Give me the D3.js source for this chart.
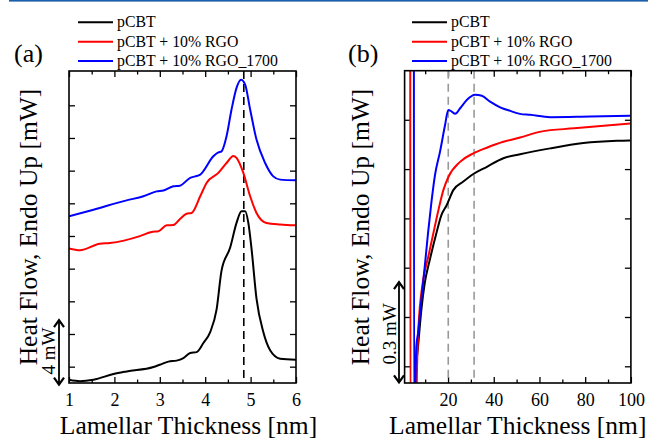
<!DOCTYPE html>
<html><head><meta charset="utf-8">
<script src="https://cdn.jsdelivr.net/npm/d3@7/dist/d3.min.js"></script>
<style>
html,body{margin:0;padding:0;background:#fff;}
svg{display:block;}
text{font-family:"Liberation Serif","Times New Roman",serif;fill:#000;}
</style></head>
<body>
<svg id="chart" width="648" height="438"></svg>
<script>
// ---------- DATA ----------
const seriesNames = ["pCBT", "pCBT + 10% RGO", "pCBT + 10% RGO_1700"];
const seriesColors = ["#000000", "#ff0000", "#0000ff"];

// Panel (a): lamellar thickness [nm] vs heat flow [mW]
const aBlack = [[1.0,-0.80],[1.24,-0.89],[1.54,-0.80],[1.98,-0.45],[2.27,-0.29],[2.86,-0.02],[3.0,0.12],[3.19,0.31],[3.37,0.37],[3.52,0.53],[3.67,0.84],[3.81,0.89],[3.96,1.45],[4.11,2.12],[4.25,3.49],[4.36,5.88],[4.55,7.29],[4.69,8.80],[4.80,9.51],[4.88,9.51],[4.95,8.80],[5.02,7.23],[5.13,4.16],[5.28,2.12],[5.43,1.0],[5.65,0.49],[6.0,0.43]];
const aRed = [[1.0,7.23],[1.24,7.12],[1.68,7.53],[1.90,7.57],[2.56,7.99],[2.82,8.25],[2.97,8.29],[3.15,8.65],[3.30,8.67],[3.44,9.03],[3.59,9.36],[3.70,9.41],[3.89,10.43],[4.03,11.25],[4.29,11.86],[4.47,12.47],[4.62,12.90],[4.69,12.78],[4.84,11.86],[4.99,10.43],[5.13,9.41],[5.35,8.80],[5.65,8.70],[6.0,8.65]];
const aBlue = [[1.0,9.2],[1.54,9.61],[2.27,10.18],[2.64,10.43],[2.93,10.73],[3.08,10.78],[3.30,11.04],[3.44,11.08],[3.67,11.56],[3.78,11.65],[3.89,11.76],[4.18,12.88],[4.29,13.12],[4.36,13.18],[4.47,14.1],[4.58,15.74],[4.69,17.07],[4.79,17.57],[4.88,17.27],[4.99,15.74],[5.13,13.9],[5.32,12.47],[5.50,11.65],[5.65,11.45],[6.0,11.41]];
const aDashX = 4.85;
const aXTicks = [1, 2, 3, 4, 5, 6];
const aXMinor = [1.5, 2.5, 3.5, 4.5, 5.5];
const aYTicks = [0, 2, 4, 6, 8, 10, 12, 14, 16];

// Panel (b)
const bBlack = [[6.13,0.009],[6.87,0.060],[8.32,0.171],[9.81,0.253],[12.0,0.323],[14.9,0.405],[17.1,0.460],[19.4,0.490],[22.3,0.536],[26.7,0.562],[31.1,0.585],[37.0,0.607],[44.2,0.633],[51.5,0.645],[64.7,0.663],[79.2,0.679],[93.9,0.686],[99.7,0.687]];
const bRed = [[3.45,1.2],[3.55,-0.3],[6.0,-0.3],[6.3,-0.06],[7.0,0.11],[9.06,0.26],[11.25,0.330],[13.44,0.400],[15.63,0.470],[17.95,0.536],[20.14,0.576],[25.26,0.622],[31.09,0.648],[36.95,0.665],[44.2,0.683],[51.5,0.696],[60.6,0.714],[75.2,0.724],[99.7,0.739]];
const bBlue = [[5.05,1.2],[5.15,-0.2],[6.13,0.060],[6.87,0.100],[8.32,0.202],[9.81,0.303],[11.25,0.405],[12.7,0.497],[14.3,0.582],[16.5,0.653],[18.7,0.734],[20.1,0.780],[21.6,0.775],[23.1,0.768],[25.3,0.785],[28.2,0.810],[31.8,0.826],[34.8,0.823],[38.4,0.805],[42.8,0.788],[47.2,0.777],[51.5,0.768],[55.9,0.765],[64.7,0.758],[82.2,0.760],[99.7,0.762]];
const bDashX = [20.1, 31.4];
const bXTicks = [20, 40, 60, 80, 100];
const bXMinor = [10, 30, 50, 70, 90];
const bYTicks = [0, 0.15, 0.30, 0.45, 0.60, 0.75];

const xLabel = "Lamellar Thickness [nm]";
const yLabel = "Heat Flow, Endo Up [mW]";

// ---------- DRAW ----------
const svg = d3.select("#chart");
svg.append("rect").attr("x", 9).attr("y", 0).attr("width", 639).attr("height", 1.6).attr("fill", "#1b5eaa");

function panel(cfg) {
  const {id, left, right, top, bottom, xDom, yDom, series, xTicks, xMinor, yTicks, tag, tagX, legLineX, yLabX, bar} = cfg;
  const x = d3.scaleLinear().domain(xDom).range([left, right]);
  const y = d3.scaleLinear().domain(yDom).range([bottom, top]);
  const g = svg.append("g");

  g.append("clipPath").attr("id", "clip" + id)
    .append("rect").attr("x", left).attr("y", top).attr("width", right - left).attr("height", bottom - top);

  // ticks (inward)
  const axB = d3.axisBottom(x).tickValues(xTicks).tickSize(-6).tickPadding(11).tickFormat(d3.format("d"));
  const gx = g.append("g").attr("transform", `translate(0,${bottom})`).call(axB);
  gx.select(".domain").remove();
  gx.selectAll("text").attr("font-size", 18).attr("dy", "0.72em").attr("y", 10.5);
  const gxm = g.append("g").attr("transform", `translate(0,${bottom})`).call(d3.axisBottom(x).tickValues(xMinor).tickSize(-3.5).tickFormat(""));
  gxm.select(".domain").remove();
  const gt = g.append("g").attr("transform", `translate(0,${top})`).call(d3.axisTop(x).tickValues(xTicks).tickSize(-6).tickFormat(""));
  gt.select(".domain").remove();
  const gtm = g.append("g").attr("transform", `translate(0,${top})`).call(d3.axisTop(x).tickValues(xMinor).tickSize(-3.5).tickFormat(""));
  gtm.select(".domain").remove();
  const gl = g.append("g").attr("transform", `translate(${left},0)`).call(d3.axisLeft(y).tickValues(yTicks).tickSize(-6).tickFormat(""));
  gl.select(".domain").remove();
  const gr = g.append("g").attr("transform", `translate(${right},0)`).call(d3.axisRight(y).tickValues(yTicks).tickSize(-6).tickFormat(""));
  gr.select(".domain").remove();
  g.selectAll(".tick line").attr("stroke", "#000").attr("stroke-width", 1.3);

  // dashed lines
  cfg.dash.forEach(dx => {
    g.append("line").attr("x1", x(dx)).attr("x2", x(dx)).attr("y1", top).attr("y2", bottom)
      .attr("stroke", cfg.dashColor).attr("stroke-width", 1.6).attr("stroke-dasharray", "8,5");
  });

  // curves
  const line = d3.line().x(d => x(d[0])).y(d => y(d[1])).curve(d3.curveMonotoneX);
  const cg = g.append("g").attr("clip-path", `url(#clip${id})`);
  series.forEach((s, i) => {
    cg.append("path").datum(s).attr("d", line).attr("fill", "none")
      .attr("stroke", seriesColors[i]).attr("stroke-width", 2).attr("stroke-linejoin", "round");
  });

  // frame
  g.append("rect").attr("x", left).attr("y", top).attr("width", right - left).attr("height", bottom - top)
    .attr("fill", "none").attr("stroke", "#000").attr("stroke-width", 1.6);

  // labels
  g.append("text").attr("x", (left + right) / 2 + cfg.xLabShift).attr("y", 433.5).attr("text-anchor", "middle")
    .attr("font-size", 25.5).text(xLabel);
  g.append("text").attr("transform", `translate(${yLabX},227) rotate(-90)`).attr("text-anchor", "middle")
    .attr("font-size", 25.5).text(yLabel);
  g.append("text").attr("x", tagX).attr("y", 62).attr("font-size", 26).text(tag);

  // legend
  const legY = [22.3, 41.7, 61];
  seriesNames.forEach((n, i) => {
    g.append("line").attr("x1", legLineX).attr("x2", legLineX + 35).attr("y1", legY[i]).attr("y2", legY[i])
      .attr("stroke", seriesColors[i]).attr("stroke-width", 2);
    g.append("text").attr("x", legLineX + 39).attr("y", legY[i] + 5).attr("font-size", 15.8).text(n);
  });

  // scale bar
  const bx = bar.x, by1 = y(bar.v0), by2 = y(bar.v1);
  g.append("line").attr("x1", bx).attr("x2", bx).attr("y1", by1).attr("y2", by2).attr("stroke", "#000").attr("stroke-width", 1.8);
  [[by2, 1], [by1, -1]].forEach(([yy, s]) => {
    g.append("path").attr("d", `M${bx - 5},${yy + s * 7} L${bx},${yy} L${bx + 5},${yy + s * 7}`)
      .attr("fill", "none").attr("stroke", "#000").attr("stroke-width", 2.2);
  });
  g.append("text").attr("transform", `translate(${bar.tx},${bar.ty}) rotate(-90)`).attr("text-anchor", "middle")
    .attr("font-size", 19).text(bar.label);
}

panel({id: "a", left: 69, right: 296, top: 71, bottom: 383, xDom: [1, 6], yDom: [-1, 18.1],
  series: [aBlack, aRed, aBlue], xTicks: aXTicks, xMinor: aXMinor, yTicks: aYTicks,
  dash: [aDashX], dashColor: "#000", tag: "(a)", tagX: 14, legLineX: 78, yLabX: 37, xLabShift: 6,
  bar: {x: 59, v0: -1.1, v1: 2.85, label: "4 mW", tx: 55, ty: 351}});

panel({id: "b", left: 404.6, right: 630.9, top: 70.7, bottom: 383, xDom: [1, 100], yDom: [-0.0508, 0.8993],
  series: [bBlack, bRed, bBlue], xTicks: bXTicks, xMinor: bXMinor, yTicks: bYTicks,
  dash: bDashX, dashColor: "#999", tag: "(b)", tagX: 348, legLineX: 412, yLabX: 369, xLabShift: 0,
  bar: {x: 399, v0: -0.049, v1: 0.256, label: "0.3 mW", tx: 395.5, ty: 334}});
</script>
</body></html>
